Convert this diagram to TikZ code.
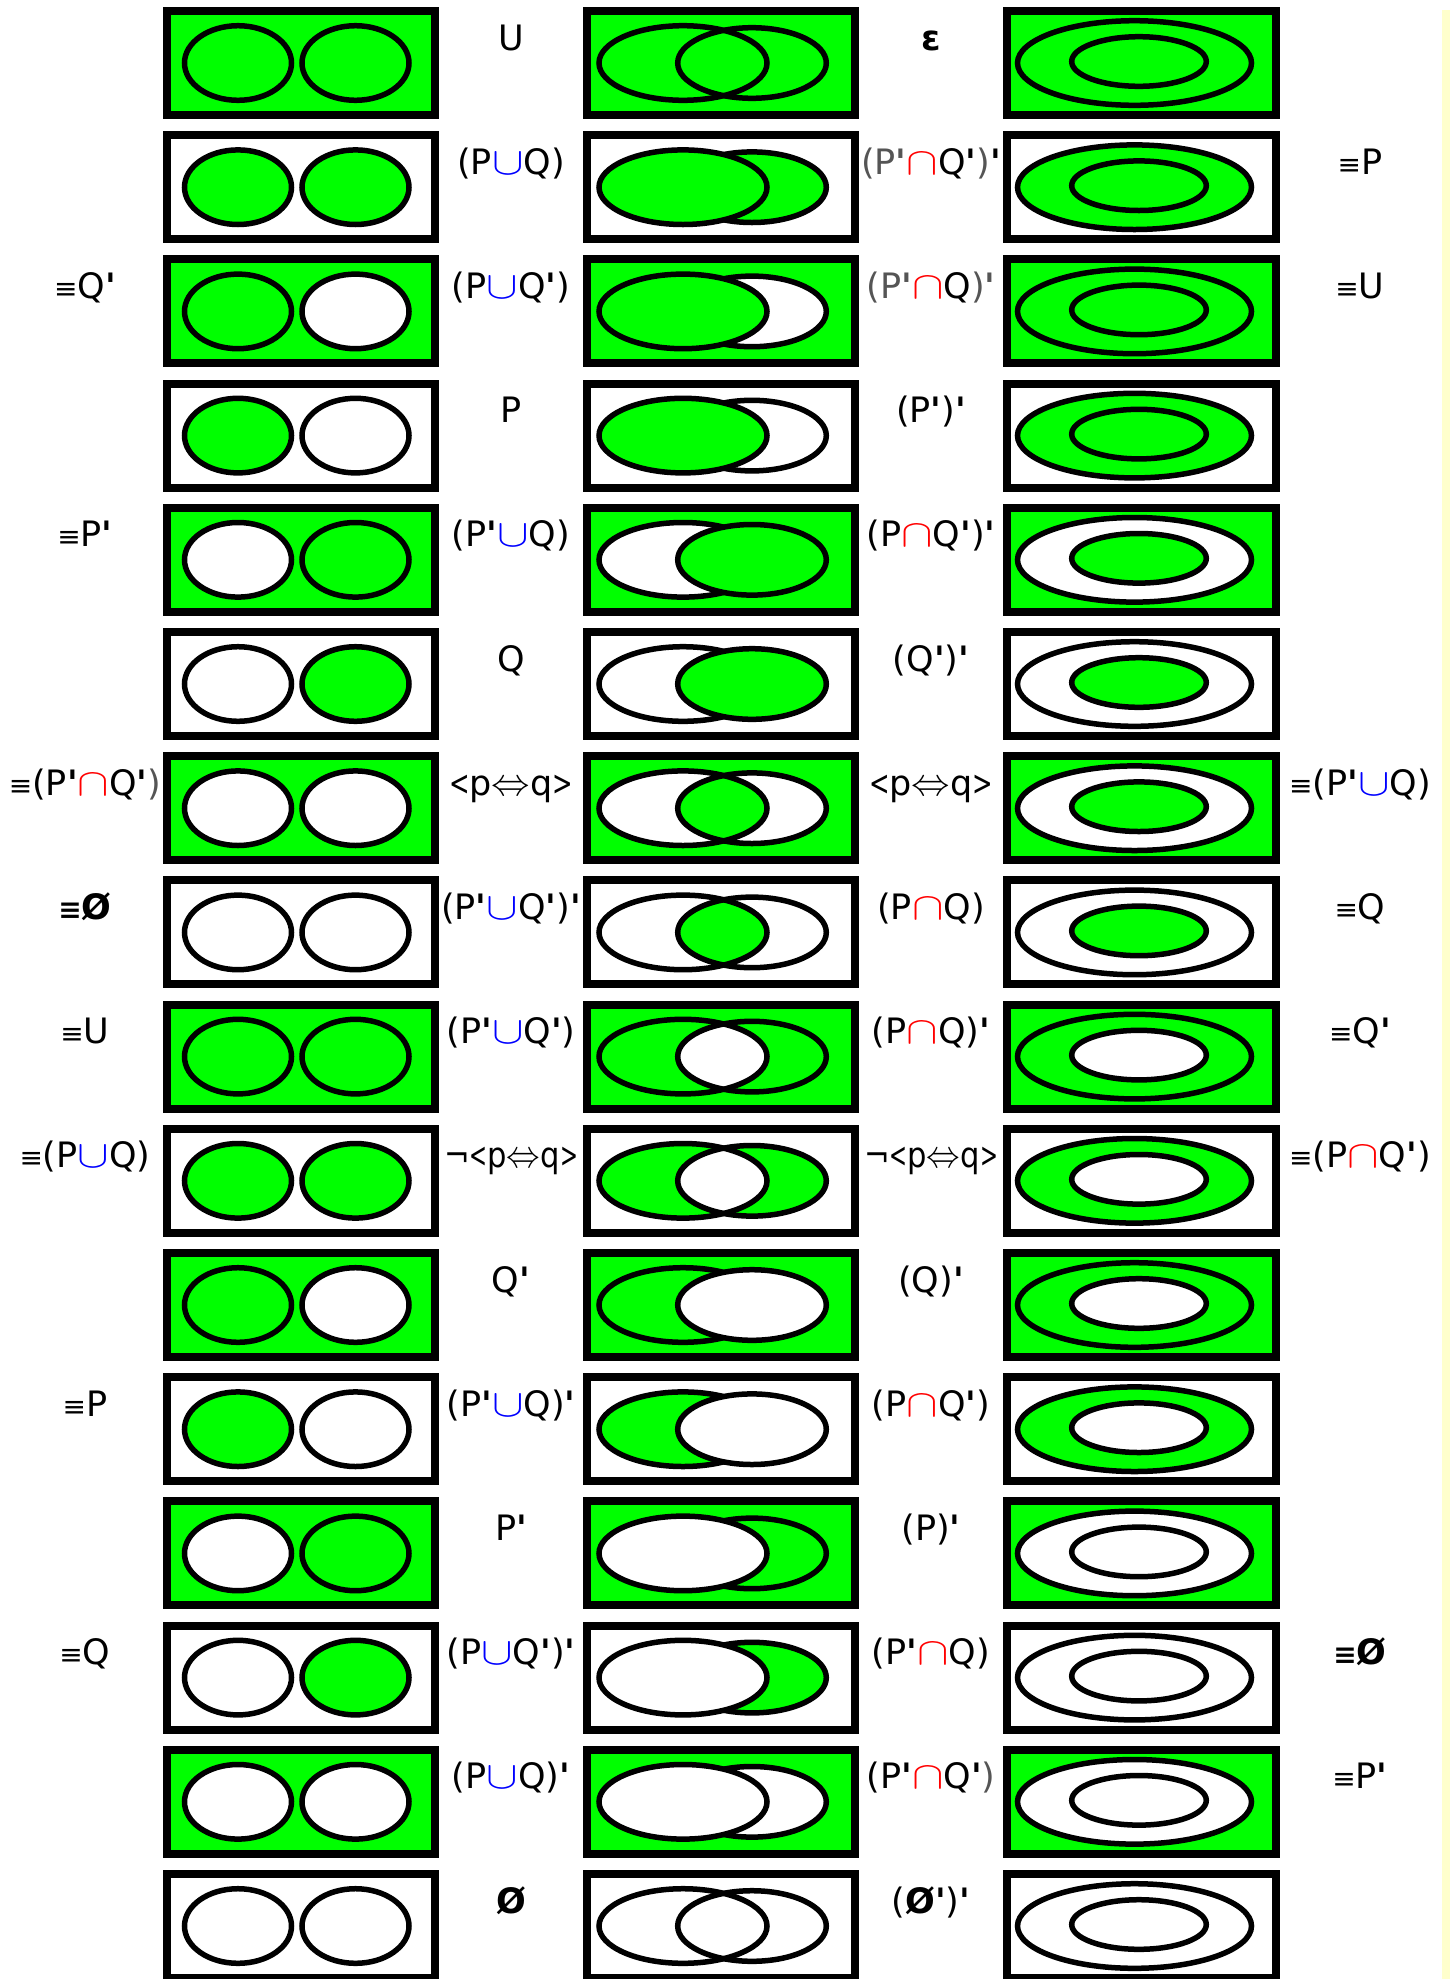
\documentclass[tikz,border=0pt]{standalone}
\usepackage{fix-cm}
\usepackage{fontspec}
\usepackage{graphicx}
\setmainfont{DejaVu Sans}[Ligatures=TeXOff]
\definecolor{G}{RGB}{0,255,0}
\definecolor{W}{RGB}{255,255,255}
\definecolor{gr}{RGB}{85,85,85}
\definecolor{ylw}{RGB}{255,255,204}
\newcommand\ap{\textbf{\char"27\relax}}
\newcommand\myU{\textcolor{blue}{\scalebox{1.35}[1.1]{$\cup$}}}
\newcommand\myI{\textcolor{red}{\scalebox{1.35}[1.1]{$\cap$}}}
\newcommand\eqv{{\fontsize{28}{28}\selectfont ≡}}
\newcommand\emp{\textbf{Ø}}
\newcommand\gp[1]{\textcolor{gr}{#1}}
\newcommand\pq{\scalebox{0.7}[1]{<}p\scalebox{1.1}{$\Leftrightarrow$}q\scalebox{0.7}[1]{>}}
\tikzset{
  boxst/.style={line width=8pt, draw=black},
  ellst/.style={line width=5.5pt, draw=black},
  lbl/.style={anchor=base, inner sep=0pt, font=\fontsize{35}{40}\selectfont}
}
\newcommand\rowy[1]{\pgfmathsetmacro\yy{63+(#1-1)*124.2}}
% column 1: separate circles
\newcommand\DiagA[4]{%
  \rowy{#1}%
  \draw[boxst, fill=#2] (167,\yy-52) rectangle (435,\yy+52);
  \draw[ellst, fill=#3] (238,\yy) ellipse [x radius=53.5, y radius=37.3];
  \draw[ellst, fill=#4] (355.5,\yy) ellipse [x radius=53.5, y radius=37.3];
}
% column 2: overlapping circles; mode 0 both outlines, 1 left on top, 2 right on top
\newcommand\DiagB[6]{%
  \rowy{#1}%
  \draw[boxst, fill=#2] (586.5,\yy-52) rectangle (854.5,\yy+52);
  \ifcase#6\relax
    \fill[#3] (683,\yy) ellipse [x radius=84, y radius=37.3];
    \fill[#4] (752,\yy) ellipse [x radius=74.3, y radius=35.3];
    \begin{scope}
      \clip (683,\yy) ellipse [x radius=84, y radius=37.3];
      \fill[#5] (752,\yy) ellipse [x radius=74.3, y radius=35.3];
    \end{scope}
    \draw[ellst] (683,\yy) ellipse [x radius=84, y radius=37.3];
    \draw[ellst] (752,\yy) ellipse [x radius=74.3, y radius=35.3];
  \or
    \draw[ellst, fill=#4] (752,\yy) ellipse [x radius=74.3, y radius=35.3];
    \draw[ellst, fill=#3] (683,\yy) ellipse [x radius=84, y radius=37.3];
  \or
    \draw[ellst, fill=#3] (683,\yy) ellipse [x radius=84, y radius=37.3];
    \draw[ellst, fill=#4] (752,\yy) ellipse [x radius=74.3, y radius=35.3];
  \fi
}
% column 3: nested
\newcommand\DiagC[4]{%
  \rowy{#1}%
  \draw[boxst, fill=#2] (1007,\yy-52) rectangle (1276,\yy+52);
  \draw[ellst, fill=#3] (1134.5,\yy) ellipse [x radius=117, y radius=42.3];
  \draw[ellst, fill=#4] (1139,\yy-1.5) ellipse [x radius=67.3, y radius=24.8];
}
\newcommand\lab[4]{\node[lbl] (#1) at ({#2},{63+(#3-1)*124.2-13}) {#4};}
\begin{document}
\begin{tikzpicture}[x=1pt,y=-1pt]
\useasboundingbox (0,0) rectangle (1450,1979);
\fill[white] (0,0) rectangle (1450,1979);
\fill[ylw] (1442,10) rectangle (1450,1979);
% rows
\DiagA{1}{G}{G}{G}   \DiagB{1}{G}{G}{G}{G}{0}   \DiagC{1}{G}{G}{G}
\DiagA{2}{W}{G}{G}   \DiagB{2}{W}{G}{G}{G}{1}   \DiagC{2}{W}{G}{G}
\DiagA{3}{G}{G}{W}   \DiagB{3}{G}{G}{W}{G}{1}   \DiagC{3}{G}{G}{G}
\DiagA{4}{W}{G}{W}   \DiagB{4}{W}{G}{W}{G}{1}   \DiagC{4}{W}{G}{G}
\DiagA{5}{G}{W}{G}   \DiagB{5}{G}{W}{G}{G}{2}   \DiagC{5}{G}{W}{G}
\DiagA{6}{W}{W}{G}   \DiagB{6}{W}{W}{G}{G}{2}   \DiagC{6}{W}{W}{G}
\DiagA{7}{G}{W}{W}   \DiagB{7}{G}{W}{W}{G}{0}   \DiagC{7}{G}{W}{G}
\DiagA{8}{W}{W}{W}   \DiagB{8}{W}{W}{W}{G}{0}   \DiagC{8}{W}{W}{G}
\DiagA{9}{G}{G}{G}   \DiagB{9}{G}{G}{G}{W}{0}   \DiagC{9}{G}{G}{W}
\DiagA{10}{W}{G}{G}  \DiagB{10}{W}{G}{G}{W}{0}  \DiagC{10}{W}{G}{W}
\DiagA{11}{G}{G}{W}  \DiagB{11}{G}{G}{W}{W}{2}  \DiagC{11}{G}{G}{W}
\DiagA{12}{W}{G}{W}  \DiagB{12}{W}{G}{W}{W}{2}  \DiagC{12}{W}{G}{W}
\DiagA{13}{G}{W}{G}  \DiagB{13}{G}{W}{G}{W}{1}  \DiagC{13}{G}{W}{W}
\DiagA{14}{W}{W}{G}  \DiagB{14}{W}{W}{G}{W}{1}  \DiagC{14}{W}{W}{W}
\DiagA{15}{G}{W}{W}  \DiagB{15}{G}{W}{W}{W}{1}  \DiagC{15}{G}{W}{W}
\DiagA{16}{W}{W}{W}  \DiagB{16}{W}{W}{W}{W}{0}  \DiagC{16}{W}{W}{W}
% labels between column 1 and 2
\lab{m1}{511}{1}{U}
\lab{m2}{511}{2}{(P\myU Q)}
\lab{m3}{511}{3}{(P\myU Q\ap)}
\lab{m4}{511}{4}{P}
\lab{m5}{511}{5}{(P\ap\myU Q)}
\lab{m6}{511}{6}{Q}
\lab{m7}{511}{7}{\pq}
\lab{m8}{511}{8}{(P\ap\myU Q\ap)\ap}
\lab{m9}{511}{9}{(P\ap\myU Q\ap)}
\lab{m10}{511}{10}{\resizebox{134pt}{\height}{¬\pq}}
\lab{m11}{511}{11}{Q\ap}
\lab{m12}{511}{12}{(P\ap\myU Q)\ap}
\lab{m13}{511}{13}{P\ap}
\lab{m14}{511}{14}{(P\myU Q\ap)\ap}
\lab{m15}{511}{15}{(P\myU Q)\ap}
\lab{m16}{511}{16}{\emp}
% labels between column 2 and 3
\lab{n1}{931}{1}{\textbf{ε}}
\lab{n2}{931}{2}{\gp{(P\ap}\myI Q\ap\gp{)}\ap}
\lab{n3}{931}{3}{\gp{(P\ap}\myI Q\gp{)\ap}}
\lab{n4}{931}{4}{(P\ap)\ap}
\lab{n5}{931}{5}{(P\myI Q\ap)\ap}
\lab{n6}{931}{6}{(Q\ap)\ap}
\lab{n7}{931}{7}{\pq}
\lab{n8}{931}{8}{(P\myI Q)}
\lab{n9}{931}{9}{(P\myI Q)\ap}
\lab{n10}{931}{10}{\resizebox{134pt}{\height}{¬\pq}}
\lab{n11}{931}{11}{(Q)\ap}
\lab{n12}{931}{12}{(P\myI Q\ap)}
\lab{n13}{931}{13}{(P)\ap}
\lab{n14}{931}{14}{(P\ap\myI Q)}
\lab{n15}{931}{15}{(P\ap\myI Q\ap\gp{)}}
\lab{n16}{931}{16}{(\emp\ap)\ap}
% labels left
\lab{l3}{85}{3}{\eqv Q\ap}
\lab{l5}{85}{5}{\eqv P\ap}
\lab{l7}{85}{7}{\eqv(P\ap\myI Q\ap\gp{)}}
\lab{l8}{85}{8}{{\bfseries\eqv}\emp}
\lab{l9}{85}{9}{\eqv U}
\lab{l10}{85}{10}{\eqv(P\myU Q)}
\lab{l12}{85}{12}{\eqv P}
\lab{l14}{85}{14}{\eqv Q}
% labels right
\lab{r2}{1360}{2}{\eqv P}
\lab{r3}{1360}{3}{\eqv U}
\lab{r7}{1360}{7}{\eqv(P\ap\myU Q)}
\lab{r8}{1360}{8}{\eqv Q}
\lab{r9}{1360}{9}{\eqv Q\ap}
\lab{r10}{1360}{10}{\eqv(P\myI Q\ap)}
\lab{r14}{1360}{14}{{\bfseries\eqv}\emp}
\lab{r15}{1360}{15}{\eqv P\ap}
\end{tikzpicture}
\end{document}
